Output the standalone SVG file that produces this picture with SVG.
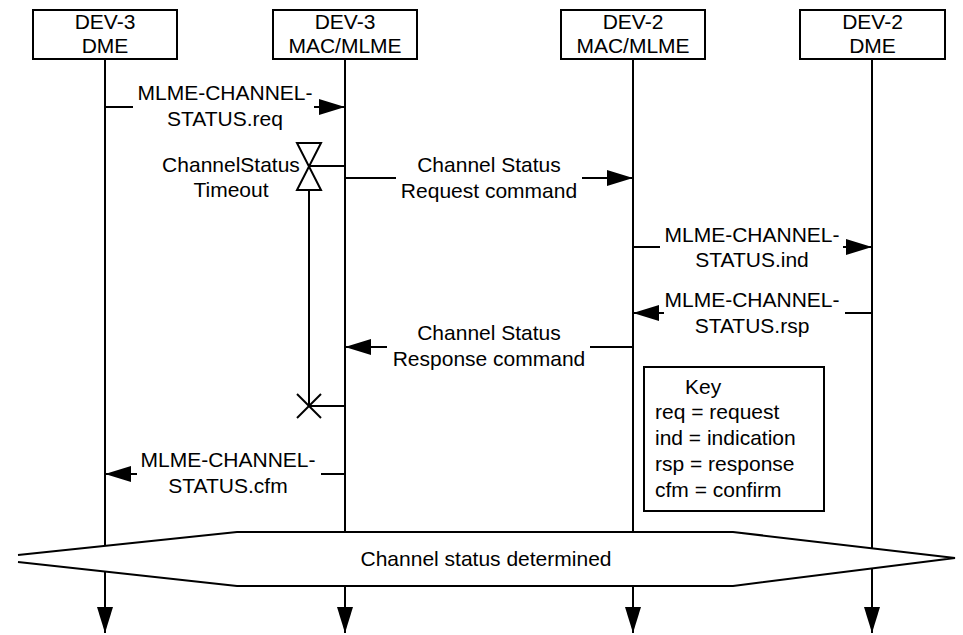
<svg xmlns="http://www.w3.org/2000/svg" width="963" height="635" viewBox="0 0 963 635">
<style>
text{font-family:"Liberation Sans",Arial,sans-serif;font-size:21px;fill:#000}
.m{text-anchor:middle}
.box{fill:#fff;stroke:#000;stroke-width:2}
.life{stroke:#000;stroke-width:2;fill:none}
.msg{stroke:#000;stroke-width:2;fill:none}
</style>
<defs>
<marker id="ah" markerUnits="userSpaceOnUse" markerWidth="26" markerHeight="16" refX="26" refY="8" orient="auto">
<path d="M0,0 L26,8 L0,16 Z" fill="#000"/>
</marker>
</defs>
<g id="lifelines">
<line class="life" x1="105" y1="59" x2="105" y2="633" marker-end="url(#ah)"/>
<line class="life" x1="345" y1="59" x2="345" y2="633" marker-end="url(#ah)"/>
<line class="life" x1="633" y1="59" x2="633" y2="633" marker-end="url(#ah)"/>
<line class="life" x1="872" y1="59" x2="872" y2="633" marker-end="url(#ah)"/>
</g>
<g id="dev3-dme">
<rect class="box" x="33" y="10" width="144" height="49"/>
<text class="m" x="105" y="29">DEV-3</text>
<text class="m" x="105" y="53">DME</text>
</g>
<g id="dev3-mac">
<rect class="box" x="273" y="10" width="144" height="49"/>
<text class="m" x="345" y="29">DEV-3</text>
<text class="m" x="345" y="53">MAC/MLME</text>
</g>
<g id="dev2-mac">
<rect class="box" x="561" y="10" width="144" height="49"/>
<text class="m" x="633" y="29">DEV-2</text>
<text class="m" x="633" y="53">MAC/MLME</text>
</g>
<g id="dev2-dme">
<rect class="box" x="800" y="10" width="145" height="49"/>
<text class="m" x="872.5" y="29">DEV-2</text>
<text class="m" x="872.5" y="53">DME</text>
</g>
<g id="connectors">
<line class="msg" x1="105" y1="107" x2="133" y2="107"/>
<line class="msg" x1="314" y1="107" x2="345" y2="107" marker-end="url(#ah)"/>
<line class="msg" x1="345" y1="178" x2="396" y2="178"/>
<line class="msg" x1="582" y1="178" x2="633" y2="178" marker-end="url(#ah)"/>
<line class="msg" x1="633" y1="247" x2="660" y2="247"/>
<line class="msg" x1="843" y1="247" x2="872" y2="247" marker-end="url(#ah)"/>
<line class="msg" x1="872" y1="313" x2="845" y2="313"/>
<line class="msg" x1="664" y1="313" x2="633" y2="313" marker-end="url(#ah)"/>
<line class="msg" x1="633" y1="347" x2="590" y2="347"/>
<line class="msg" x1="387" y1="347" x2="345" y2="347" marker-end="url(#ah)"/>
<line class="msg" x1="345" y1="474" x2="321" y2="474"/>
<line class="msg" x1="137" y1="474" x2="105" y2="474" marker-end="url(#ah)"/>
</g>
<g id="timer">
<line class="msg" x1="309" y1="166" x2="345" y2="166"/>
<path d="M297,143 L321,143 L297,190 L321,190 Z" fill="#fff" stroke="#000" stroke-width="2" stroke-linejoin="miter"/>
<line class="msg" x1="309" y1="190" x2="309" y2="406"/>
<line class="msg" x1="297" y1="394" x2="321" y2="418"/>
<line class="msg" x1="321" y1="394" x2="297" y2="418"/>
<line class="msg" x1="309" y1="406" x2="345" y2="406"/>
<text class="m" x="231" y="172">ChannelStatus</text>
<text class="m" x="231" y="197">Timeout</text>
</g>
<g id="labels">
<text class="m" x="225" y="100">MLME-CHANNEL-</text>
<text class="m" x="225" y="126">STATUS.req</text>
<text class="m" x="489" y="172">Channel Status</text>
<text class="m" x="489" y="198">Request command</text>
<text class="m" x="752" y="242">MLME-CHANNEL-</text>
<text class="m" x="752" y="267">STATUS.ind</text>
<text class="m" x="752" y="307">MLME-CHANNEL-</text>
<text class="m" x="752" y="333">STATUS.rsp</text>
<text class="m" x="489" y="340">Channel Status</text>
<text class="m" x="489" y="366">Response command</text>
<text class="m" x="228" y="467">MLME-CHANNEL-</text>
<text class="m" x="228" y="493">STATUS.cfm</text>
</g>
<g id="key">
<rect class="box" x="644" y="367" width="180" height="144"/>
<text x="685" y="394">Key</text>
<text x="655" y="419">req = request</text>
<text x="655" y="445">ind = indication</text>
<text x="655" y="471">rsp = response</text>
<text x="655" y="497">cfm = confirm</text>
</g>
<g id="status-determined">
<path d="M18,555 L237,532 L733,532 L955,558 L733,586 L237,586 L18,562" fill="#fff" stroke="#000" stroke-width="2"/>
<text class="m" x="486" y="566">Channel status determined</text>
</g>
</svg>
